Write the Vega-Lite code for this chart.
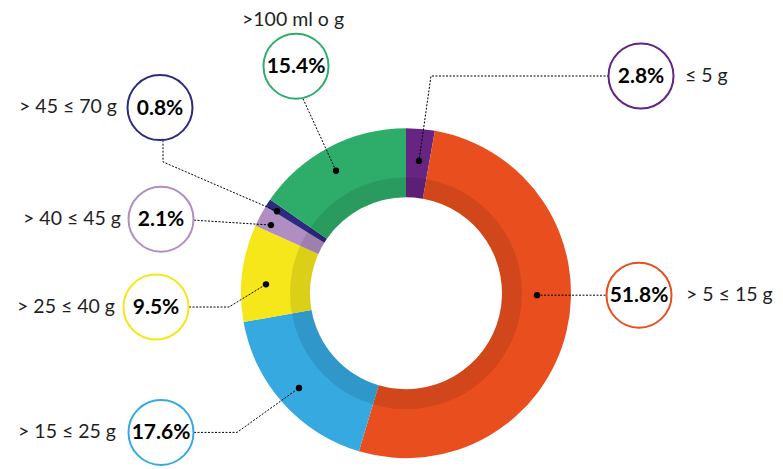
{
  "$schema": "https://vega.github.io/schema/vega-lite/v6.json",
  "width": 783,
  "height": 469,
  "padding": 0,
  "autosize": {"type": "fit", "contains": "padding"},
  "background": "white",
  "config": {"view": {"stroke": null}},
  "datasets": {
    "slices": [
      {"cat": "≤ 5 g", "pct": 2.8, "ord": 1},
      {"cat": "> 5 ≤ 15 g", "pct": 51.8, "ord": 2},
      {"cat": "> 15 ≤ 25 g", "pct": 17.6, "ord": 3},
      {"cat": "> 25 ≤ 40 g", "pct": 9.5, "ord": 4},
      {"cat": "> 40 ≤ 45 g", "pct": 2.1, "ord": 5},
      {"cat": "> 45 ≤ 70 g", "pct": 0.8, "ord": 6},
      {"cat": ">100 ml o g", "pct": 15.4, "ord": 7}
    ],
    "labels": [
      {"cat": "≤ 5 g", "txt": "2.8%", "cx": 641, "cy": 77, "dx": 419, "dy": 163, "tx": 685, "ty": 77, "side": "left"},
      {"cat": "> 5 ≤ 15 g", "txt": "51.8%", "cx": 639, "cy": 299, "dx": 537, "dy": 299, "tx": 686, "ty": 299, "side": "left"},
      {"cat": "> 15 ≤ 25 g", "txt": "17.6%", "cx": 161, "cy": 438, "dx": 299, "dy": 393, "tx": 116, "ty": 438, "side": "right"},
      {"cat": "> 25 ≤ 40 g", "txt": "9.5%", "cx": 156, "cy": 311, "dx": 266, "dy": 288, "tx": 115, "ty": 311, "side": "right"},
      {"cat": "> 40 ≤ 45 g", "txt": "2.1%", "cx": 161, "cy": 222, "dx": 271, "dy": 228, "tx": 121, "ty": 222, "side": "right"},
      {"cat": "> 45 ≤ 70 g", "txt": "0.8%", "cx": 160, "cy": 109, "dx": 277, "dy": 214, "tx": 117, "ty": 108, "side": "right"},
      {"cat": ">100 ml o g", "txt": "15.4%", "cx": 296, "cy": 67, "dx": 336, "dy": 173, "tx": 293, "ty": 20, "side": "center"}
    ],
    "leaders": [
      {"id": "A", "seq": 1, "lx": 609, "ly": 77},
      {"id": "A", "seq": 2, "lx": 431, "ly": 77},
      {"id": "A", "seq": 3, "lx": 419, "ly": 163},
      {"id": "B", "seq": 1, "lx": 537, "ly": 299},
      {"id": "B", "seq": 2, "lx": 606, "ly": 299},
      {"id": "C", "seq": 1, "lx": 194, "ly": 438},
      {"id": "C", "seq": 2, "lx": 237, "ly": 438},
      {"id": "C", "seq": 3, "lx": 299, "ly": 393},
      {"id": "D", "seq": 1, "lx": 189, "ly": 311},
      {"id": "D", "seq": 2, "lx": 229, "ly": 311},
      {"id": "D", "seq": 3, "lx": 266, "ly": 288},
      {"id": "E", "seq": 1, "lx": 194, "ly": 223},
      {"id": "E", "seq": 2, "lx": 271, "ly": 228},
      {"id": "F", "seq": 1, "lx": 163, "ly": 142},
      {"id": "F", "seq": 2, "lx": 163, "ly": 164},
      {"id": "F", "seq": 3, "lx": 277, "ly": 214},
      {"id": "G", "seq": 1, "lx": 303, "ly": 100},
      {"id": "G", "seq": 2, "lx": 336, "ly": 173}
    ]
  },
  "layer": [
    {
      "data": {"name": "slices"},
      "mark": {"type": "arc", "outerRadius": 165, "innerRadius": 96},
      "encoding": {
        "x": {"datum": 406, "type": "quantitative", "scale": {"domain": [0, 783], "nice": false, "zero": false}, "axis": null},
        "y": {"datum": 297, "type": "quantitative", "scale": {"domain": [0, 469], "nice": false, "zero": false, "reverse": true}, "axis": null},
        "theta": {"field": "pct", "type": "quantitative", "stack": true},
        "order": {"field": "ord", "type": "quantitative"},
        "color": {
          "field": "cat", "type": "nominal", "legend": null,
          "scale": {
            "domain": ["≤ 5 g", "> 5 ≤ 15 g", "> 15 ≤ 25 g", "> 25 ≤ 40 g", "> 40 ≤ 45 g", "> 45 ≤ 70 g", ">100 ml o g"],
            "range": ["#662483", "#E94E1F", "#36A9E1", "#F5E71A", "#B08EC2", "#2D2B80", "#2EAD6A"]
          }
        }
      }
    },
    {
      "data": {"values": [{"ring": 1}]},
      "mark": {"type": "arc", "outerRadius": 116, "innerRadius": 96, "theta": 0, "theta2": 6.2832, "color": "black", "opacity": 0.1},
      "encoding": {
        "x": {"datum": 406, "type": "quantitative"},
        "y": {"datum": 297, "type": "quantitative"}
      }
    },
    {
      "data": {"name": "leaders"},
      "mark": {"type": "line", "color": "black", "strokeWidth": 1, "strokeDash": [2, 1.5], "interpolate": "linear"},
      "encoding": {
        "x": {"field": "lx", "type": "quantitative"},
        "y": {"field": "ly", "type": "quantitative"},
        "detail": {"field": "id", "type": "nominal"},
        "order": {"field": "seq", "type": "quantitative"}
      }
    },
    {
      "data": {"name": "labels"},
      "mark": {"type": "point", "filled": true, "color": "black", "size": 40, "opacity": 1},
      "encoding": {
        "x": {"field": "dx", "type": "quantitative"},
        "y": {"field": "dy", "type": "quantitative"}
      }
    },
    {
      "data": {"name": "labels"},
      "mark": {"type": "point", "shape": "circle", "filled": false, "fill": "white", "fillOpacity": 1, "size": 4225, "strokeWidth": 2, "opacity": 1},
      "encoding": {
        "x": {"field": "cx", "type": "quantitative"},
        "y": {"field": "cy", "type": "quantitative"},
        "stroke": {
          "field": "cat", "type": "nominal", "legend": null,
          "scale": {
            "domain": ["≤ 5 g", "> 5 ≤ 15 g", "> 15 ≤ 25 g", "> 25 ≤ 40 g", "> 40 ≤ 45 g", "> 45 ≤ 70 g", ">100 ml o g"],
            "range": ["#662483", "#E94E1F", "#36A9E1", "#F5E71A", "#B08EC2", "#2D2B80", "#2EAD6A"]
          }
        }
      }
    },
    {
      "data": {"name": "labels"},
      "mark": {"type": "text", "font": "Lato", "fontSize": 21, "fontWeight": "bold", "color": "black", "align": "center", "baseline": "middle", "dy": 1},
      "encoding": {
        "x": {"field": "cx", "type": "quantitative"},
        "y": {"field": "cy", "type": "quantitative"},
        "text": {"field": "txt"}
      }
    },
    {
      "data": {"name": "labels"},
      "transform": [{"filter": "datum.side === 'left'"}],
      "mark": {"type": "text", "font": "Lato", "fontSize": 19.5, "fontWeight": "normal", "color": "#1f1f1f", "align": "left", "baseline": "middle"},
      "encoding": {
        "x": {"field": "tx", "type": "quantitative"},
        "y": {"field": "ty", "type": "quantitative"},
        "text": {"field": "cat"}
      }
    },
    {
      "data": {"name": "labels"},
      "transform": [{"filter": "datum.side === 'right'"}],
      "mark": {"type": "text", "font": "Lato", "fontSize": 19.5, "fontWeight": "normal", "color": "#1f1f1f", "align": "right", "baseline": "middle"},
      "encoding": {
        "x": {"field": "tx", "type": "quantitative"},
        "y": {"field": "ty", "type": "quantitative"},
        "text": {"field": "cat"}
      }
    },
    {
      "data": {"name": "labels"},
      "transform": [{"filter": "datum.side === 'center'"}],
      "mark": {"type": "text", "font": "Lato", "fontSize": 19.5, "fontWeight": "normal", "color": "#1f1f1f", "align": "center", "baseline": "middle"},
      "encoding": {
        "x": {"field": "tx", "type": "quantitative"},
        "y": {"field": "ty", "type": "quantitative"},
        "text": {"field": "cat"}
      }
    }
  ]
}
